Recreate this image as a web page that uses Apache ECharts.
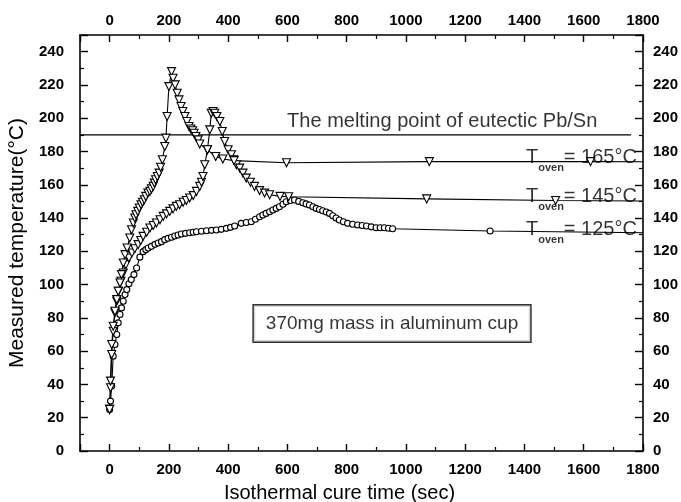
<!DOCTYPE html>
<html>
<head>
<meta charset="utf-8">
<script src="https://cdn.jsdelivr.net/npm/echarts@6/dist/echarts.min.js"></script>
<style>
  html, body { margin: 0; padding: 0; background: #fff; }
  #chart { width: 681px; height: 502px; }
</style>
</head>
<body>
<div id="chart"></div>
<script>
// Oven set-point temperatures (°C) for the three runs
const ovenTemps = [165, 145, 125];

// Eutectic Pb/Sn melting point (°C) and the time span of its reference line (s)
const meltingPoint = 190;
const meltingSpan = [-100, 1760];

// Run at T_oven = 165 °C
const t165 = [0,3,7,12,18,24,29,35,40,46,52,59,68,74,80,85,89,95,100,106,111,117,122,129,136,141,147,151,155,161,167,172,178,186,190,194,200,209,214,221,228,234,241,247,254,261,268,274,280,285,291,299,304,330,358,382,420,597,1079,1623,1800];
const v165 = [25,42,64,75,84,91,96,101,106,113,118,122,128,133,137,140,142,144,146,148,149.5,151,153,155,156,157.5,159,161,163,165,167,170.5,175,183,188,201,219,228,224,220,215,211,207,204,201,198,195,193.5,192.5,191,189,187,184.5,181,177,175.5,174.5,173.2,173.9,173.9,173.8];

// Run at T_oven = 145 °C
const t145 = [0,3,7,12,18,24,30,38,46,55,65,75,85,96,105,113,125,136,147,158,170,181,192,203,214,225,236,248,259,270,282,293,304,310,315,321,330,338,343,349,355,362,372,380,388,400,411,419,428,439,450,461,475,489,506,523,540,575,604,1070,1505,1800];
const v145 = [25,38,58,72,83,90,96,102,107,112,116,119,121.5,124,126.5,129,131.5,134,135.5,137,139,141,142.5,144,145.5,147,148,149.5,150.5,152,153.5,156,159,161.5,165,172,181,193,203,204,203,201,198,192,186,181,178,175,172,170,167,164,161.5,159,156.5,155,154,153,152.8,151.5,150.5,150.2];

// Run at T_oven = 125 °C
const t125 = [0,3,7,12,18,24,29,35,40,46,52,58,65,73,82,91,102,113,122,130,141,153,164,175,186,197,209,220,231,242,256,270,282,293,310,327,344,360,377,394,408,422,444,461,478,492,506,517,528,540,551,562,573,585,596,610,624,638,652,663,674,686,697,708,719,731,742,753,764,775,789,803,820,837,852,867,883,899,913,927,941,955,1284,1800];
const v125 = [25,30,39,57,64,70,77,82,86,90,94,97,100.5,103,106,110,116.5,119.8,121,122,123,124.2,125,125.8,127,127.8,128.5,129.2,129.8,130.4,130.8,131.2,131.5,131.8,132.1,132.4,132.6,132.8,133.2,133.8,134.4,135.2,136.8,137.3,137.8,139.3,140.8,141.8,142.8,143.8,144.8,145.8,146.8,148.3,149.8,150.5,150.8,150,149.2,148.5,147.8,146.8,145.8,145.1,144.4,143.6,142.8,141.4,140,138.8,137.8,136.8,136.3,135.8,135.5,135.2,134.7,134.2,134.2,134.2,133.9,133.6,132.2,131.2];

const FONT = '"Liberation Sans", Arial, Helvetica, sans-serif';

// pair up times and temperatures; the final point carries the line to the edge without a marker
function toPoints(ts, vs) {
  return ts.map((t, i) => i === ts.length - 1 ? { value: [t, vs[i]], symbol: 'none' } : [t, vs[i]]);
}

function runSeries(ts, vs, symbol) {
  const tri = symbol === 'triangle';
  return {
    type: 'line',
    data: toPoints(ts, vs),
    symbol: tri ? 'triangle' : 'circle',
    symbolRotate: tri ? 180 : 0,
    symbolSize: tri ? 8 : 6,
    showAllSymbol: true,
    lineStyle: { color: '#000', width: 1.1 },
    itemStyle: { color: '#fff', borderColor: '#000', borderWidth: 1.1 },
    emphasis: { disabled: true },
    z: 3
  };
}

const tickLabel = {
  color: '#000', fontFamily: FONT, fontWeight: 'bold', fontSize: 15,
  formatter: v => String(v)
};

function xAxis(position) {
  const bottom = position === 'bottom';
  return {
    type: 'value', position, min: -100, max: 1800, splitNumber: 10,
    axisLine: { show: true, onZero: false, lineStyle: { color: '#000', width: 1.6 } },
    axisTick: { show: true, inside: true, length: 7, lineStyle: { color: '#000', width: 1.4 } },
    minorTick: { show: true, splitNumber: 2, length: 4, lineStyle: { color: '#000', width: 1.2 } },
    splitLine: { show: false },
    axisLabel: Object.assign({ margin: bottom ? 11 : 7, showMinLabel: false }, tickLabel),
    name: bottom ? 'Isothermal cure time (sec)' : '',
    nameLocation: 'middle', nameGap: 32,
    nameTextStyle: { color: '#000', fontFamily: FONT, fontSize: 20, padding: [0, 44, 0, 0] }
  };
}

function yAxis(position) {
  const left = position === 'left';
  return {
    type: 'value', position, min: 0, max: 250, interval: 20,
    axisLine: { show: true, onZero: false, lineStyle: { color: '#000', width: 1.6 } },
    axisTick: { show: true, inside: true, length: 8, lineStyle: { color: '#000', width: 1.4 } },
    minorTick: { show: true, splitNumber: 2, length: 4, lineStyle: { color: '#000', width: 1.2 } },
    splitLine: { show: false },
    axisLabel: Object.assign({ margin: left ? 16 : 10, showMaxLabel: false }, tickLabel),
    name: left ? 'Measured temperature(°C)' : '',
    nameLocation: 'middle', nameGap: 52, nameRotate: 90,
    nameTextStyle: { color: '#000', fontFamily: FONT, fontSize: 21 }
  };
}

const ovenLabelRich = {
  t: { fontFamily: FONT, fontSize: 20, color: '#000', lineHeight: 32, verticalAlign: 'middle' },
  s: { fontFamily: FONT, fontSize: 11, fontWeight: 'bold', color: '#000', lineHeight: 11, verticalAlign: 'bottom' },
  e: { fontFamily: FONT, fontSize: 20, color: '#000', lineHeight: 32, verticalAlign: 'middle' }
};

const chart = echarts.init(document.getElementById('chart'), null, { renderer: 'canvas' });

chart.setOption({
  animation: false,
  backgroundColor: '#fff',
  grid: { left: 80, right: 38, top: 35, bottom: 51, outerBoundsMode: 'none', containLabel: false },
  xAxis: [xAxis('bottom'), xAxis('top')],
  yAxis: [yAxis('left'), yAxis('right')],
  series: [
    {
      type: 'line',
      data: meltingSpan.map(t => [t, meltingPoint]),
      symbol: 'none',
      lineStyle: { color: '#000', width: 1.3 },
      z: 2
    },
    runSeries(t125, v125, 'circle'),
    runSeries(t145, v145, 'triangle'),
    runSeries(t165, v165, 'triangle'),
    {
      // melting-point caption
      type: 'scatter', symbolSize: 0, silent: true,
      data: [[599, meltingPoint + 8]],
      label: {
        show: true, position: 'right', distance: 0,
        formatter: 'The melting point of eutectic Pb/Sn',
        fontFamily: FONT, fontSize: 20, color: '#000'
      }
    },
    {
      // oven temperature captions, resting on the plateau of each run
      type: 'scatter', symbolSize: 0, silent: true,
      data: [[1405, 174.5], [1405, 151], [1405, 131.2]],
      label: {
        show: true, position: 'right', distance: 0, offset: [0, -3],
        formatter: p => '{t|T}{s|oven}{e|= ' + ovenTemps[p.dataIndex] + '°C}',
        rich: ovenLabelRich
      }
    },
    {
      // sample description box
      type: 'scatter', symbolSize: 0, silent: true,
      data: [[953, 76.6]],
      label: {
        show: true, position: 'inside',
        formatter: '370mg mass in aluminum cup',
        fontFamily: FONT, fontSize: 19, color: '#000',
        backgroundColor: '#fff', borderColor: '#000', borderWidth: 1.5,
        padding: [9, 12, 8, 12]
      }
    }
  ]
});
</script>
</body>
</html>
